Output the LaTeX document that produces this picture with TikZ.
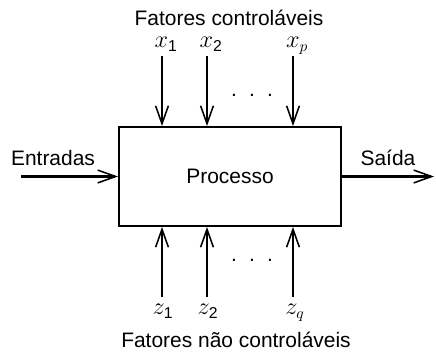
\documentclass[tikz,border=0pt]{standalone}
\usepackage{amsmath}
\usepackage{fontspec}
\setmainfont{Liberation Sans}
\usetikzlibrary{arrows.meta}

\begin{document}
\begin{tikzpicture}[x=0.025cm, y=-0.025cm,
        every node/.style={font=\fontsize{14.9}{18}\selectfont},
        var/.style={font=\fontsize{16}{19}\selectfont, anchor=base, inner sep=0pt},
        dots/.style={inner sep=0pt},
        flow/.style={line width=2.1pt, -{Straight Barb[length=0.45cm, width=0.32cm, line width=1.1pt]}}]
        \useasboundingbox (0,0) rectangle (436,354);
        \node [draw, line width=1.4pt, minimum width=5.55cm, minimum height=2.47cm, inner sep=0pt] (proc) at (230,176.5) {Processo};
        % fatores controlaveis
        \coordinate (x1) at (162,56);
        \coordinate (x2) at (207,56);
        \coordinate (xp) at (293,56);
        \draw [flow] (x1) -- (x1 |- proc.north);
        \draw [flow] (x2) -- (x2 |- proc.north);
        \draw [flow] (xp) -- (xp |- proc.north);
        \node [var] (lx1) at (166,48) {$x_{\text{1}}$};
        \node [var] (lx2) at (211,48) {$x_{\text{2}}$};
        \node [var] (lxp) at (297,48) {$x_p$};
        \node [dots] (dtop) at (252,95) {.\hspace{0.305cm}.\hspace{0.305cm}.};
        \node (ctrl) at (229,18) {Fatores controláveis};
        % fatores nao controlaveis
        \coordinate (z1) at (162,297);
        \coordinate (z2) at (207,297);
        \coordinate (zq) at (293,297);
        \draw [flow] (z1) -- (z1 |- proc.south);
        \draw [flow] (z2) -- (z2 |- proc.south);
        \draw [flow] (zq) -- (zq |- proc.south);
        \node [var] (lz1) at (163,315) {$z_{\text{1}}$};
        \node [var] (lz2) at (208,315) {$z_{\text{2}}$};
        \node [var] (lzq) at (295,315) {$z_q$};
        \node [dots] (dbot) at (252,260) {.\hspace{0.305cm}.\hspace{0.305cm}.};
        \node (nctrl) at (236,340) {Fatores não controláveis};
        % entrada e saida
        \coordinate (in) at (21,176.5);
        \coordinate (out) at (434,176.5);
        \draw [flow] (in) -- (proc.west);
        \draw [flow] (proc.east) -- (out);
        \node (lin) at (53,158) {Entradas};
        \node (lout) at (388,158) {Saída};
        \node [var] (ly) at (442,197) {$y$};
\end{tikzpicture}
\end{document}
